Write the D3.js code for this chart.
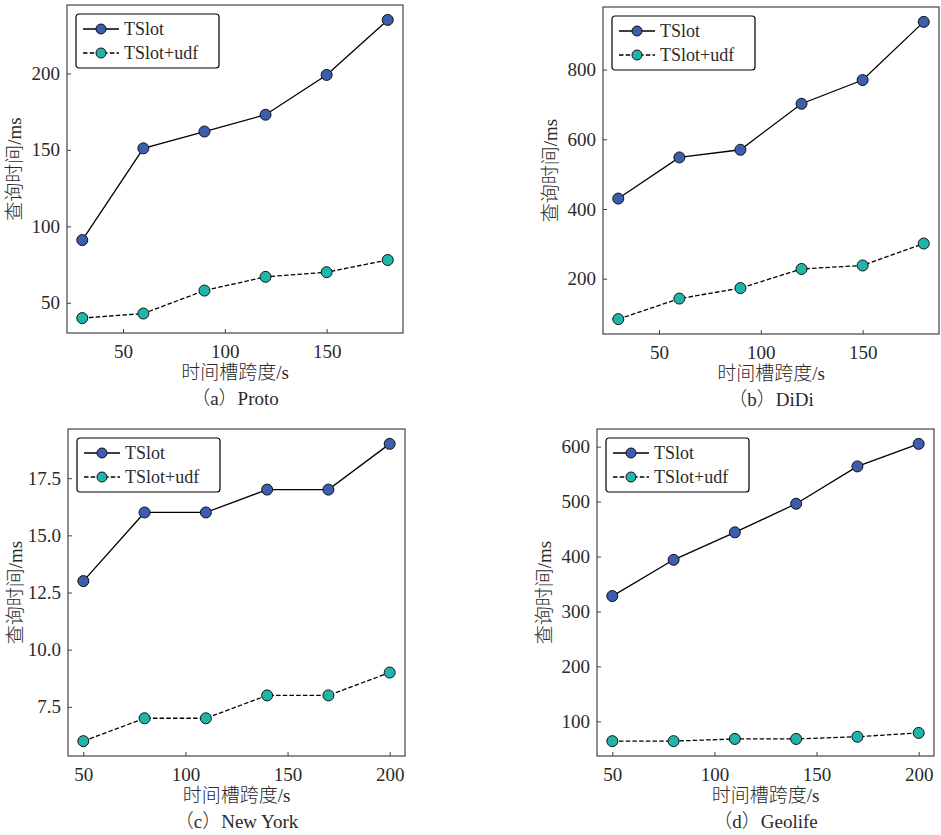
<!DOCTYPE html>
<html>
<head>
<meta charset="utf-8">
<script src="https://cdn.jsdelivr.net/npm/d3@7/dist/d3.min.js"></script>
<style>
  html, body { margin: 0; padding: 0; background: #fff; }
  svg text { font-family: "Liberation Serif", "Noto Sans CJK SC", serif !important; fill: #2a2a2a; }
  .cjk { font-weight: 300; }
</style>
</head>
<body>
<svg id="chart" width="941" height="835"></svg>
<script>
// ---- data ----
const seriesNames = ["TSlot", "TSlot+udf"];
const xProtoDidi = [30, 60, 90, 120, 150, 180];
const xNyGeo = [50, 80, 110, 140, 170, 200];

const protoTSlot = [91, 151, 162, 173, 199, 235];
const protoUdf = [40, 43, 58, 67, 70, 78];

const didiTSlot = [430, 548, 570, 702, 770, 937];
const didiUdf = [84, 143, 173, 228, 238, 301];

const nyTSlot = [13, 16, 16, 17, 17, 19];
const nyUdf = [6, 7, 7, 8, 8, 9];

const geoTSlot = [328, 394, 444, 496, 564, 605];
const geoUdf = [64, 64, 68, 68, 72, 79];

const xTicksA = [50, 100, 150];
const xTicksC = [50, 100, 150, 200];
const yTicksA = [50, 100, 150, 200];
const yTicksB = [200, 400, 600, 800];
const yTicksC = [7.5, 10.0, 12.5, 15.0, 17.5];
const yTicksD = [100, 200, 300, 400, 500, 600];

const captions = ["（a）Proto", "（b）DiDi", "（c）New York", "（d）Geolife"];
const xLabel = "时间槽跨度/s";
const yLabel = "查询时间/ms";

// ---- panels ----
const panels = [
  { x: xProtoDidi, s: [protoTSlot, protoUdf], xt: xTicksA, yt: yTicksA, fmt: d3.format("d"),
    box: { l: 67, r: 403, t: 5, b: 333 }, cap: captions[0] },
  { x: xProtoDidi, s: [didiTSlot, didiUdf], xt: xTicksA, yt: yTicksB, fmt: d3.format("d"),
    box: { l: 603, r: 939, t: 7, b: 334 }, cap: captions[1] },
  { x: xNyGeo, s: [nyTSlot, nyUdf], xt: xTicksC, yt: yTicksC, fmt: d3.format(".1f"),
    box: { l: 68, r: 405, t: 429, b: 756 }, cap: captions[2] },
  { x: xNyGeo, s: [geoTSlot, geoUdf], xt: xTicksC, yt: yTicksD, fmt: d3.format("d"),
    box: { l: 597, r: 934, t: 429, b: 756 }, cap: captions[3] }
];

const colors = ["#3b5fae", "#1fb5ab"];
const dashes = [null, "4.5,2.2"];
const fs = 19;
const FONT = '"Liberation Serif", "Noto Sans CJK SC", serif';
const svg = d3.select("#chart");

function padDomain(vals) {
  const [lo, hi] = d3.extent(vals);
  const m = (hi - lo) * 0.05;
  return [lo - m, hi + m];
}

panels.forEach(p => {
  const b = p.box;
  const xs = d3.scaleLinear().domain(padDomain(p.x)).range([b.l, b.r]);
  const ys = d3.scaleLinear().domain(padDomain(p.s[0].concat(p.s[1]))).range([b.b, b.t]);
  const g = svg.append("g");

  // axes (ticks inward)
  const xa = g.append("g").attr("transform", `translate(0,${b.b})`)
    .call(d3.axisBottom(xs).tickValues(p.xt).tickSize(-4).tickPadding(9).tickFormat(d3.format("d")));
  const ya = g.append("g").attr("transform", `translate(${b.l},0)`)
    .call(d3.axisLeft(ys).tickValues(p.yt).tickSize(-4).tickPadding(7).tickFormat(p.fmt));
  [xa, ya].forEach(a => {
    a.attr("font-family", FONT);
    a.select(".domain").remove();
    a.selectAll(".tick line").attr("stroke", "#444").attr("stroke-width", 1);
    a.selectAll(".tick text").style("font-size", fs + "px").style("font-family", FONT).attr("fill", "#2a2a2a");
  });
  xa.selectAll(".tick text").attr("dy", "0.82em");

  // frame
  g.append("rect").attr("x", b.l).attr("y", b.t).attr("width", b.r - b.l).attr("height", b.b - b.t)
    .attr("fill", "none").attr("stroke", "#444").attr("stroke-width", 1.2);

  // lines & markers
  p.s.forEach((vals, i) => {
    const pts = p.x.map((xv, k) => [xv, vals[k]]);
    g.append("path").datum(pts)
      .attr("d", d3.line().x(d => xs(d[0])).y(d => ys(d[1])))
      .attr("fill", "none").attr("stroke", "#000").attr("stroke-width", 1.3)
      .attr("stroke-dasharray", dashes[i]);
    g.selectAll(null).data(pts).enter().append("circle")
      .attr("cx", d => xs(d[0])).attr("cy", d => ys(d[1])).attr("r", 5.5)
      .attr("fill", colors[i]).attr("stroke", "#111").attr("stroke-width", 1);
  });

  // legend
  const lg = g.append("g").attr("transform", `translate(${b.l + 9},${b.t + 9})`);
  lg.append("rect").attr("x", 0).attr("y", 0).attr("width", 143).attr("height", 54).attr("rx", 3)
    .attr("fill", "#fff").attr("stroke", "#000").attr("stroke-width", 1.2);
  seriesNames.forEach((n, i) => {
    const cy = 15 + i * 24;
    lg.append("line").attr("x1", 7).attr("x2", 43).attr("y1", cy).attr("y2", cy)
      .attr("stroke", "#000").attr("stroke-width", 1.3).attr("stroke-dasharray", dashes[i]);
    lg.append("circle").attr("cx", 25).attr("cy", cy).attr("r", 5)
      .attr("fill", colors[i]).attr("stroke", "#111").attr("stroke-width", 1);
    lg.append("text").attr("x", 48).attr("y", cy).attr("dy", "0.35em")
      .style("font-size", "18px").style("font-family", FONT).text(n);
  });

  // axis labels
  const cx = (b.l + b.r) / 2;
  g.append("text").attr("class", "cjk").attr("x", cx).attr("y", b.b + 46).attr("text-anchor", "middle")
    .style("font-size", fs + "px").style("font-family", FONT).text(xLabel);
  g.append("text").attr("class", "cjk").attr("x", cx).attr("y", b.b + 72).attr("text-anchor", "middle")
    .style("font-size", fs + "px").style("font-family", FONT).text(p.cap);
  const ly = (b.t + b.b) / 2;
  g.append("text").attr("class", "cjk").attr("transform", `translate(${b.l - 46},${ly}) rotate(-90)`)
    .attr("text-anchor", "middle").style("font-size", fs + "px").style("font-family", FONT).text(yLabel);
});
</script>
</body>
</html>
